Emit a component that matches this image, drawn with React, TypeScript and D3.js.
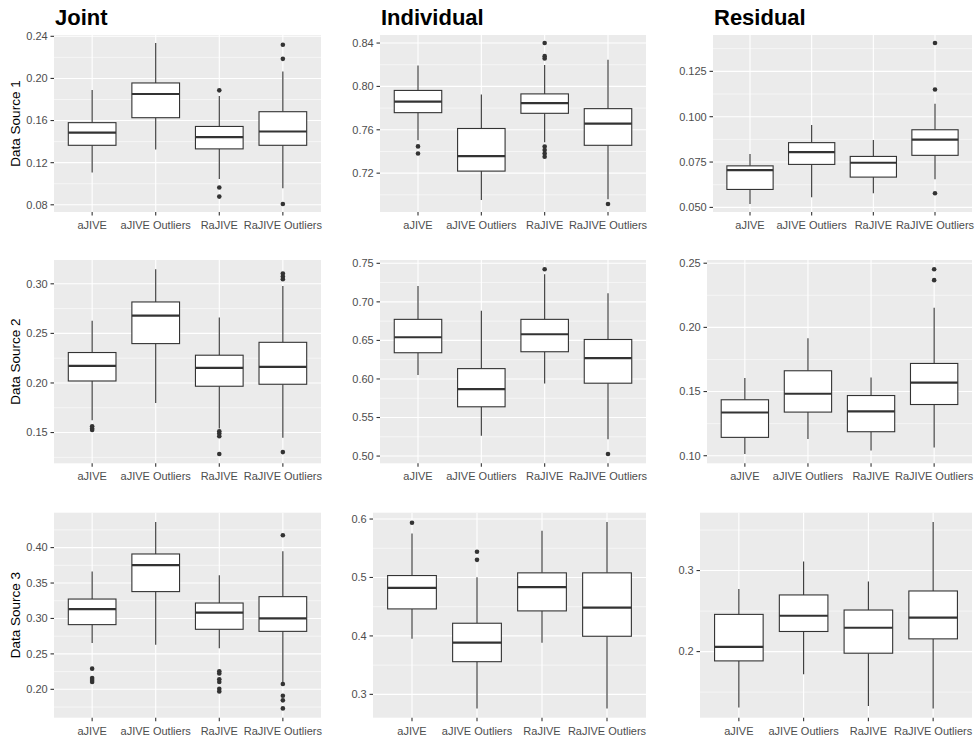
import React from "react";
import * as d3 from "d3";

const methods = ["aJIVE", "aJIVE Outliers", "RaJIVE", "RaJIVE Outliers"];
const componentTitles = ["Joint", "Individual", "Residual"];
const sourceTitles = ["Data Source 1", "Data Source 2", "Data Source 3"];

// [lower whisker, q1, median, q3, upper whisker] per method
const jointS1Stats = [
  [0.1107, 0.1365, 0.1486, 0.158, 0.189],
  [0.1324, 0.1627, 0.1852, 0.1957, 0.2336],
  [0.1044, 0.1331, 0.1442, 0.1544, 0.1833],
  [0.0958, 0.1365, 0.1496, 0.1684, 0.2066],
];
const jointS1Outliers = [[], [], [0.1887, 0.0964, 0.0878], [0.232, 0.2186, 0.0808]];
const jointS1Ticks = ["0.08", "0.12", "0.16", "0.20", "0.24"];

const indivS1Stats = [
  [0.7503, 0.7758, 0.786, 0.7963, 0.8192],
  [0.6952, 0.7219, 0.7358, 0.7612, 0.7926],
  [0.7485, 0.7752, 0.7845, 0.7931, 0.8198],
  [0.696, 0.7457, 0.7656, 0.7795, 0.8245],
];
const indivS1Outliers = [
  [0.7447, 0.7382],
  [],
  [0.84, 0.8279, 0.8257, 0.7445, 0.7414, 0.7382, 0.7352],
  [0.6916],
];
const indivS1Ticks = ["0.72", "0.76", "0.80", "0.84"];

const residS1Stats = [
  [0.0519, 0.0599, 0.0706, 0.0729, 0.0794],
  [0.0556, 0.0737, 0.0805, 0.0857, 0.0954],
  [0.0578, 0.0667, 0.0746, 0.0781, 0.0872],
  [0.0655, 0.0787, 0.0874, 0.0928, 0.1071],
];
const residS1Outliers = [[], [], [], [0.1406, 0.115, 0.0578]];
const residS1Ticks = ["0.050", "0.075", "0.100", "0.125"];

const jointS2Stats = [
  [0.1623, 0.202, 0.2173, 0.2307, 0.2627],
  [0.1797, 0.2397, 0.268, 0.2817, 0.3147],
  [0.154, 0.1967, 0.2153, 0.228, 0.266],
  [0.1447, 0.1987, 0.2163, 0.241, 0.2977],
];
const jointS2Outliers = [
  [0.1563, 0.154, 0.1525],
  [],
  [0.1513, 0.149, 0.1463, 0.1283],
  [0.3103, 0.3073, 0.3047, 0.1303],
];
const jointS2Ticks = ["0.15", "0.20", "0.25", "0.30"];

const indivS2Stats = [
  [0.6052, 0.634, 0.6541, 0.6773, 0.7207],
  [0.5265, 0.5639, 0.5867, 0.6134, 0.6885],
  [0.5941, 0.6353, 0.658, 0.6773, 0.7358],
  [0.5219, 0.5945, 0.6271, 0.6512, 0.7113],
];
const indivS2Outliers = [[], [], [0.7423], [0.5026]];
const indivS2Ticks = ["0.50", "0.55", "0.60", "0.65", "0.70", "0.75"];

const residS2Stats = [
  [0.1013, 0.1143, 0.1337, 0.1436, 0.1605],
  [0.113, 0.134, 0.1483, 0.1662, 0.1916],
  [0.1041, 0.1187, 0.1345, 0.1469, 0.161],
  [0.1065, 0.1399, 0.157, 0.1719, 0.2152],
];
const residS2Outliers = [[], [], [], [0.2453, 0.2368]];
const residS2Ticks = ["0.10", "0.15", "0.20", "0.25"];

const jointS3Stats = [
  [0.2653, 0.2913, 0.3133, 0.3274, 0.3661],
  [0.263, 0.3379, 0.3754, 0.391, 0.4361],
  [0.2578, 0.2847, 0.3082, 0.3218, 0.3609],
  [0.21, 0.2818, 0.3002, 0.3308, 0.3948],
];
const jointS3Outliers = [
  [0.2292, 0.2159, 0.2131, 0.2103],
  [],
  [0.2254, 0.2225, 0.2141, 0.2103, 0.2009, 0.1971],
  [0.4174, 0.2075, 0.191, 0.1844, 0.1731],
];
const jointS3Ticks = ["0.20", "0.25", "0.30", "0.35", "0.40"];

const indivS3Stats = [
  [0.3953, 0.4462, 0.4822, 0.5033, 0.5753],
  [0.276, 0.3559, 0.3885, 0.4217, 0.5006],
  [0.3885, 0.4428, 0.4834, 0.5079, 0.5799],
  [0.276, 0.3994, 0.4485, 0.5079, 0.5949],
];
const indivS3Outliers = [[0.5937], [0.5439, 0.5302], [], []];
const indivS3Ticks = ["0.3", "0.4", "0.5", "0.6"];

const residS3Stats = [
  [0.1311, 0.1885, 0.2058, 0.2459, 0.2773],
  [0.172, 0.2248, 0.2442, 0.2699, 0.3112],
  [0.1327, 0.198, 0.2294, 0.2513, 0.2864],
  [0.1299, 0.2157, 0.2418, 0.2748, 0.3599],
];
const residS3Outliers = [[], [], [], []];
const residS3Ticks = ["0.2", "0.3"];

const panelData = [
  [
    [jointS1Stats, jointS1Outliers, jointS1Ticks],
    [indivS1Stats, indivS1Outliers, indivS1Ticks],
    [residS1Stats, residS1Outliers, residS1Ticks],
  ],
  [
    [jointS2Stats, jointS2Outliers, jointS2Ticks],
    [indivS2Stats, indivS2Outliers, indivS2Ticks],
    [residS2Stats, residS2Outliers, residS2Ticks],
  ],
  [
    [jointS3Stats, jointS3Outliers, jointS3Ticks],
    [indivS3Stats, indivS3Outliers, indivS3Ticks],
    [residS3Stats, residS3Outliers, residS3Ticks],
  ],
];

// layout
const rowTop = [35, 260, 512.7];
const rowBottom = [212, 463.3, 717.7];
const panelLeft = [
  [54, 380, 713],
  [54, 380, 707],
  [54, 373, 700],
];
const panelRight = [321, 646, 972];

const FONT = "'Liberation Sans', Arial, Helvetica, sans-serif";
const DARK = "#333333";
const TICKTXT = "#4D4D4D";

type PanelProps = {
  stats: number[][];
  outliers: number[][];
  ticks: string[];
  left: number;
  right: number;
  top: number;
  bottom: number;
};

function Panel({ stats, outliers, ticks, left, right, top, bottom }: PanelProps) {
  const all = stats.flat().concat(outliers.flat());
  const mn = d3.min(all) as number;
  const mx = d3.max(all) as number;
  const pad = (mx - mn) * 0.05;
  const y = d3.scaleLinear().domain([mn - pad, mx + pad]).range([bottom, top]);
  const x = d3.scalePoint<string>().domain(methods).range([left, right]).padding(0.6);
  const step = x.step();
  const bw = step * 0.75;
  const majors = ticks.map((t) => parseFloat(t));
  const gap = majors[1] - majors[0];
  const [d0, d1] = y.domain();
  const minorCand = majors.map((v) => v - gap / 2).concat([majors[majors.length - 1] + gap / 2]);
  const minors = minorCand.filter((v) => v > d0 && v < d1);

  return (
    <g>
      <rect x={left} y={top} width={right - left} height={bottom - top} fill="#EBEBEB" />
      {minors.map((v, i) => (
        <line key={"mn" + i} x1={left} x2={right} y1={y(v)} y2={y(v)} stroke="#FFFFFF" strokeWidth={0.55} />
      ))}
      {majors.map((v, i) => (
        <line key={"mj" + i} x1={left} x2={right} y1={y(v)} y2={y(v)} stroke="#FFFFFF" strokeWidth={1.1} />
      ))}
      {methods.map((m) => (
        <line key={"vg" + m} x1={x(m)} x2={x(m)} y1={top} y2={bottom} stroke="#FFFFFF" strokeWidth={1.1} />
      ))}
      {methods.map((m, i) => {
        const [lo, q1, med, q3, hi] = stats[i];
        const cx = x(m) as number;
        return (
          <g key={"box" + m}>
            <line x1={cx} x2={cx} y1={y(hi)} y2={y(q3)} stroke={DARK} strokeWidth={1.1} />
            <line x1={cx} x2={cx} y1={y(q1)} y2={y(lo)} stroke={DARK} strokeWidth={1.1} />
            <rect
              x={cx - bw / 2}
              y={y(q3)}
              width={bw}
              height={y(q1) - y(q3)}
              fill="#FFFFFF"
              stroke={DARK}
              strokeWidth={1.1}
            />
            <line x1={cx - bw / 2} x2={cx + bw / 2} y1={y(med)} y2={y(med)} stroke={DARK} strokeWidth={2.2} />
            {outliers[i].map((o, k) => (
              <circle key={k} cx={cx} cy={y(o)} r={2.3} fill={DARK} />
            ))}
          </g>
        );
      })}
      {majors.map((v, i) => (
        <g key={"yt" + i}>
          <line x1={left - 3.5} x2={left} y1={y(v)} y2={y(v)} stroke={DARK} strokeWidth={1.1} />
          <text
            x={left - 6.3}
            y={y(v)}
            dy="0.35em"
            textAnchor="end"
            fontSize={11}
            fontFamily={FONT}
            fill={TICKTXT}
          >
            {ticks[i]}
          </text>
        </g>
      ))}
      {methods.map((m) => (
        <g key={"xt" + m}>
          <line x1={x(m)} x2={x(m)} y1={bottom} y2={bottom + 3.5} stroke={DARK} strokeWidth={1.1} />
          <text
            x={x(m)}
            y={bottom + 17}
            textAnchor="middle"
            fontSize={11}
            fontFamily={FONT}
            fill={TICKTXT}
          >
            {m}
          </text>
        </g>
      ))}
    </g>
  );
}

export default function App() {
  return (
    <svg
      width={977}
      height={740}
      style={{ position: "absolute", left: 0, top: 0, background: "#FFFFFF" }}
    >
      <rect x={0} y={0} width={977} height={740} fill="#FFFFFF" />
      {panelData.map((row, r) =>
        row.map((p, c) => (
          <Panel
            key={r + "-" + c}
            stats={p[0] as number[][]}
            outliers={p[1] as number[][]}
            ticks={p[2] as string[]}
            left={panelLeft[r][c]}
            right={panelRight[c]}
            top={rowTop[r]}
            bottom={rowBottom[r]}
          />
        ))
      )}
      {componentTitles.map((t, c) => (
        <text
          key={"title" + t}
          x={panelLeft[0][c] + 1}
          y={25}
          fontSize={22}
          fontWeight="bold"
          fontFamily={FONT}
          fill="#000000"
        >
          {t}
        </text>
      ))}
      {sourceTitles.map((t, r) => (
        <text
          key={"yl" + t}
          transform={`translate(20,${(rowTop[r] + rowBottom[r]) / 2}) rotate(-90)`}
          textAnchor="middle"
          fontSize={13.5}
          fontFamily={FONT}
          fill="#000000"
        >
          {t}
        </text>
      ))}
    </svg>
  );
}
